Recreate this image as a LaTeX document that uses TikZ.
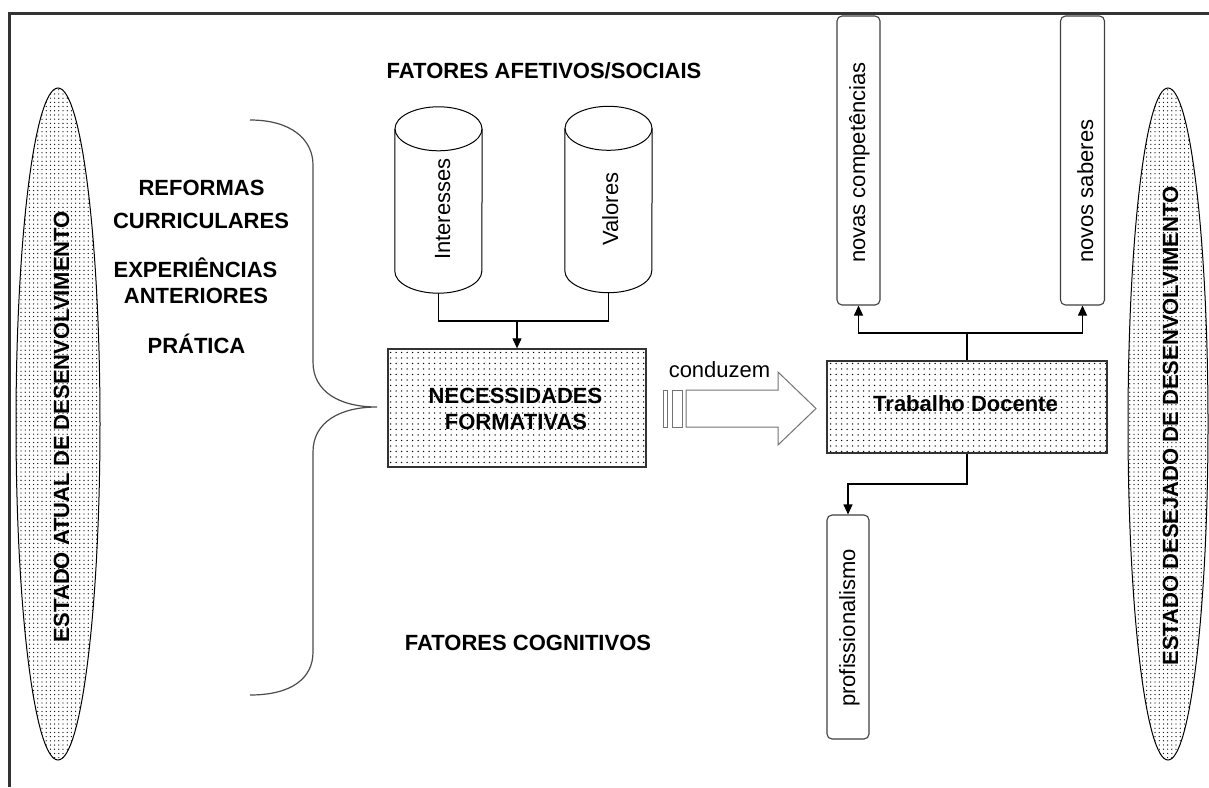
\documentclass[tikz,border=0pt]{standalone}
\usepackage{fontspec}
\setmainfont{Liberation Sans}
\usetikzlibrary{arrows.meta,patterns.meta,shapes.geometric}
\begin{document}
\begin{tikzpicture}[x=1pt,y=-1pt,
  lbl/.style={font=\fontsize{22}{26}\selectfont\bfseries, inner sep=0pt},
  reg/.style={font=\fontsize{22}{26}\selectfont, inner sep=0pt},
  dotfill/.style={pattern={Dots[distance=5.5pt,radius=0.75pt]}, pattern color=black},
  densedots/.style={pattern={Dots[distance=4.2pt,radius=0.65pt]}, pattern color=black},
  mainbox/.style={draw=black!80, line width=1.3pt, dotfill, inner sep=0pt},
  rbox/.style={draw=black!75, line width=1.1pt, rounded corners=5pt, fill=white, inner sep=0pt},
  oval/.style={ellipse, draw=black, line width=1pt, densedots, inner sep=0pt},
  cylbox/.style={inner sep=0pt, draw=none, minimum width=87pt, minimum height=186pt},
  conn/.style={draw=black, line width=1.1pt},
  arr/.style={conn, -{Triangle[width=9pt,length=10pt]}},
  bigarrow/.style={draw=black!55, line width=1pt, fill=white}
]
\useasboundingbox (0,0) rectangle (1209,787);
\fill[white] (0,0) rectangle (1209,787);

% frame
\draw[line width=3pt, black!80] (9,787) -- (9,13) -- (1209,13);

% side ovals
\node[oval, minimum width=84pt, minimum height=672pt] (atual) at (58,424) {};
\node[lbl, rotate=90, anchor=base] (atualtxt) at (69,426.5) {ESTADO ATUAL DE DESENVOLVIMENTO};
\node[oval, minimum width=80pt, minimum height=672pt] (desej) at (1168,424) {};
\node[lbl, rotate=90, anchor=base] (desejtxt) at (1178,426) {ESTADO DESEJADO DE DESENVOLVIMENTO};

% left labels
\node[lbl, anchor=base] (t1) at (201.5,195) {REFORMAS};
\node[lbl, anchor=base] (t2) at (201,228) {CURRICULARES};
\node[lbl, anchor=base] (t3) at (195.5,277) {EXPERIÊNCIAS};
\node[lbl, anchor=base] (t4) at (196,303) {ANTERIORES};
\node[lbl, anchor=base] (t5) at (196.5,353) {PRÁTICA};

% brace
\draw[black!70, line width=1.2pt] (250,120) .. controls (292,120) and (313,140) .. (313,165)
  -- (313,362) .. controls (313,392) and (340,407) .. (377,407)
  .. controls (340,407) and (313,422) .. (313,452)
  -- (313,652) .. controls (313,678) and (292,695) .. (250,695);

% headings
\node[lbl, anchor=base] (afet) at (544,78) {FATORES AFETIVOS/SOCIAIS};
\node[lbl, anchor=base] (cogn) at (528,650) {FATORES COGNITIVOS};

% cylinders
\node[cylbox] (int) at (438.5,200) {};
\node[cylbox] (val) at (608.5,199.5) {};
\foreach \n in {int,val}{
  \path (\n.north west) ++(0,22) coordinate (\n tl);
  \path (\n.south west) ++(0,-22) coordinate (\n bl);
  \path (\n.north east) ++(0,22) coordinate (\n tr);
  \draw[line width=1pt, fill=white] (\n tl) -- (\n bl) arc[start angle=180, end angle=0, x radius=43.5, y radius=22] -- (\n tr);
  \draw[line width=1pt] (\n.north) ++(0,22) ellipse [x radius=43.5, y radius=22];
}
\node[reg, rotate=90, anchor=base] (inttxt) at (450,209) {Interesses};
\node[reg, rotate=90, anchor=base] (valtxt) at (618,209) {Valores};

% necessidades
\node[mainbox, minimum width=258pt, minimum height=118pt] (nec) at (517,408) {};
\node[lbl, anchor=base] (nec1) at (515.5,403) {NECESSIDADES};
\node[lbl, anchor=base] (nec2) at (516,429) {FORMATIVAS};

\coordinate (j1) at (517,321);
\draw[conn] (int.south) |- (j1) -| (val.south);
\draw[arr] (j1) -- (nec.north);

% conduzem arrow
\draw[bigarrow] (663,390) rectangle (667,427);
\draw[bigarrow] (672,390) rectangle (682,427);
\draw[bigarrow] (686,390) -- (778,390) -- (778,372) -- (816,408.5) -- (778,445) -- (778,427) -- (686,427) -- cycle;
\node[reg, anchor=base] (cond) at (719.5,377) {conduzem};

% trabalho docente
\node[mainbox, minimum width=280pt, minimum height=92pt] (trab) at (967,407) {};
\node[lbl, anchor=base] (trabtxt) at (965.5,411.5) {Trabalho Docente};

% outcome boxes
\node[rbox, minimum width=43pt, minimum height=289pt] (nc) at (858.5,160.5) {};
\node[reg, rotate=90, anchor=base west] (nctxt) at (865,263) {novas competências};
\node[rbox, minimum width=44pt, minimum height=289pt] (ns) at (1082.5,160.5) {};
\node[reg, rotate=90, anchor=base west] (nstxt) at (1093,263) {novos saberes};
\node[rbox, minimum width=42pt, minimum height=224pt] (prof) at (848,627) {};
\node[reg, rotate=90, anchor=base west] (proftxt) at (855,707) {profissionalismo};

\coordinate (j2) at (967,333);
\draw[conn] (trab.north) -- (j2);
\draw[arr] (j2) -| (nc.south);
\draw[arr] (j2) -| (ns.south);
\coordinate (j3) at (967,484);
\draw[arr] (trab.south) -- (j3) -| (prof.north);
\end{tikzpicture}
\end{document}
